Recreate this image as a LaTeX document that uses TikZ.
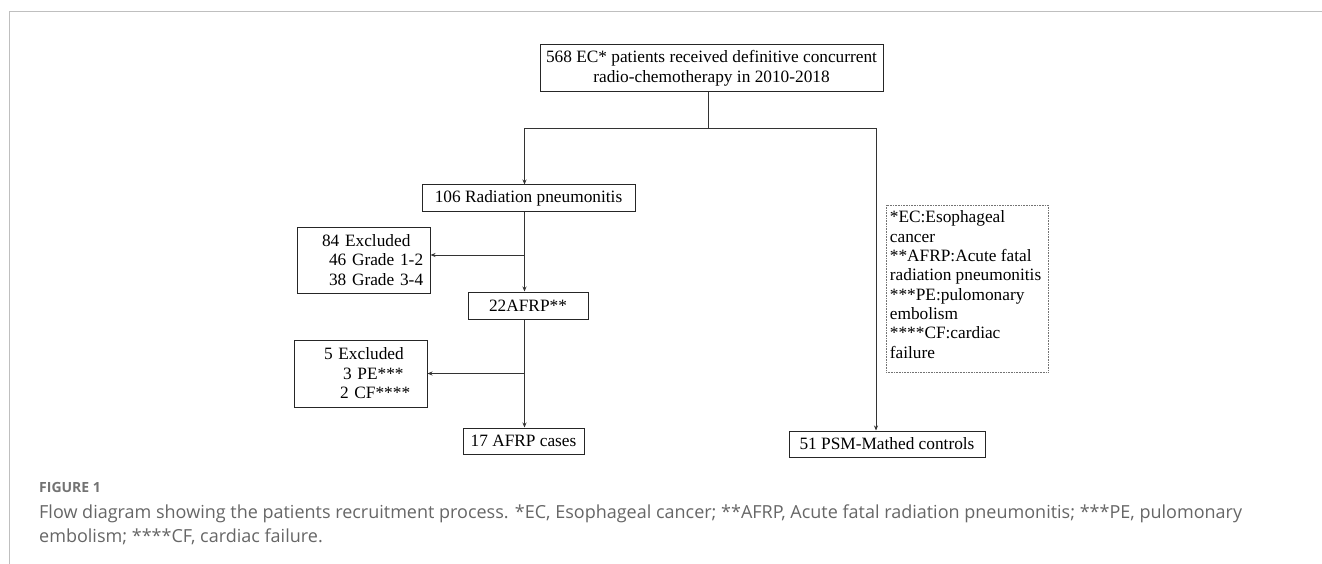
\documentclass[tikz,border=0pt]{standalone}
\usepackage{fontspec}
\setmainfont{Liberation Serif}
\newfontfamily\capfont{Open Sans}
\usetikzlibrary{arrows.meta}
\begin{document}
\begin{tikzpicture}[x=1pt,y=-1pt,
  box/.style={draw=black!85, line width=1pt, inner sep=0pt, font=\fontsize{17.3}{19.5}\selectfont},
  arr/.style={draw=black!80, line width=0.7pt, -{Stealth[length=5pt,width=4pt]}},
  ln/.style={draw=black!80, line width=0.7pt},
  legbox/.style={draw=black!55, dash pattern=on 0.8pt off 0.8pt, line width=0.6pt, inner sep=0pt},
  legtext/.style={inner sep=0pt, align=left, font=\fontsize{17.3}{19.3}\selectfont},
  figlabel/.style={inner sep=0pt, text=black!55, font=\capfont\bfseries\fontsize{14}{16}\selectfont},
  captext/.style={inner sep=0pt, text=black!60, align=left, font=\capfont\fontsize{18}{24}\selectfont}
]
\useasboundingbox (0,0) rectangle (1322,564);
\draw[black!25, line width=0.8pt] (9.5,564) -- (9.5,11.5) -- (1322,11.5);

\node[box, minimum width=343pt, minimum height=47pt, align=center] (top) at (711.5,68.5) {568 EC* patients received definitive concurrent\\radio-chemotherapy in 2010-2018};
\node[box, minimum width=213pt, minimum height=27pt] (rp) at (528.5,198.5) {106 Radiation pneumonitis};
\node[box, text width=133pt, minimum height=66pt, align=left] (ex1) at (363.5,260) {\hspace*{25pt}84 Excluded\\\hspace*{32pt}46 Grade 1-2\\\hspace*{32pt}38 Grade 3-4};
\node[box, minimum width=120pt, minimum height=27pt] (afrp) at (528,305.5) {22AFRP**};
\node[box, text width=133pt, minimum height=67pt, align=left] (ex2) at (360.5,373.5) {\hspace*{30pt}5 Excluded\\\hspace*{49pt}3 PE***\\\hspace*{46pt}2 CF****};
\node[box, minimum width=121pt, minimum height=26pt] (cases) at (523.5,441) {17 AFRP cases};
\node[box, minimum width=196pt, minimum height=26pt] (psm) at (887,444) {51 PSM-Mathed controls};

\node[legbox, minimum width=162pt, minimum height=167pt] (leg) at (967,288.5) {};
\node[legtext, anchor=north west] (legt) at ([xshift=4pt,yshift=-6pt]leg.north west) {*EC:Esophageal\\cancer\\**AFRP:Acute fatal\\radiation pneumonitis\\***PE:pulomonary\\embolism\\****CF:cardiac\\failure};

\coordinate (jm) at (708,128);
\coordinate (jl) at (524.5,128);
\coordinate (jr) at (876,128);
\draw[ln] (top.south -| jm) -- (jm);
\draw[arr] (jm) -- (jl) -- (jl |- rp.north);
\draw[arr] (jm) -- (jr) -- (jr |- psm.north);
\draw[arr] (rp.south -| jl) -- (jl |- afrp.north);
\coordinate (b1) at (524.5,255);
\draw[arr] (b1) -- (b1 -| ex1.east);
\draw[arr] (afrp.south -| jl) -- (jl |- cases.north);
\coordinate (b2) at (524.5,373.5);
\draw[arr] (b2) -- (b2 -| ex2.east);

\node[figlabel, anchor=west] (fig) at (39,487) {FIGURE 1};
\node[captext, anchor=north west] (cap) at (39,505) {Flow diagram showing the patients recruitment process. *EC, Esophageal cancer; **AFRP, Acute fatal radiation pneumonitis; ***PE, pulomonary\\embolism; ****CF, cardiac failure.};
\end{tikzpicture}
\end{document}
